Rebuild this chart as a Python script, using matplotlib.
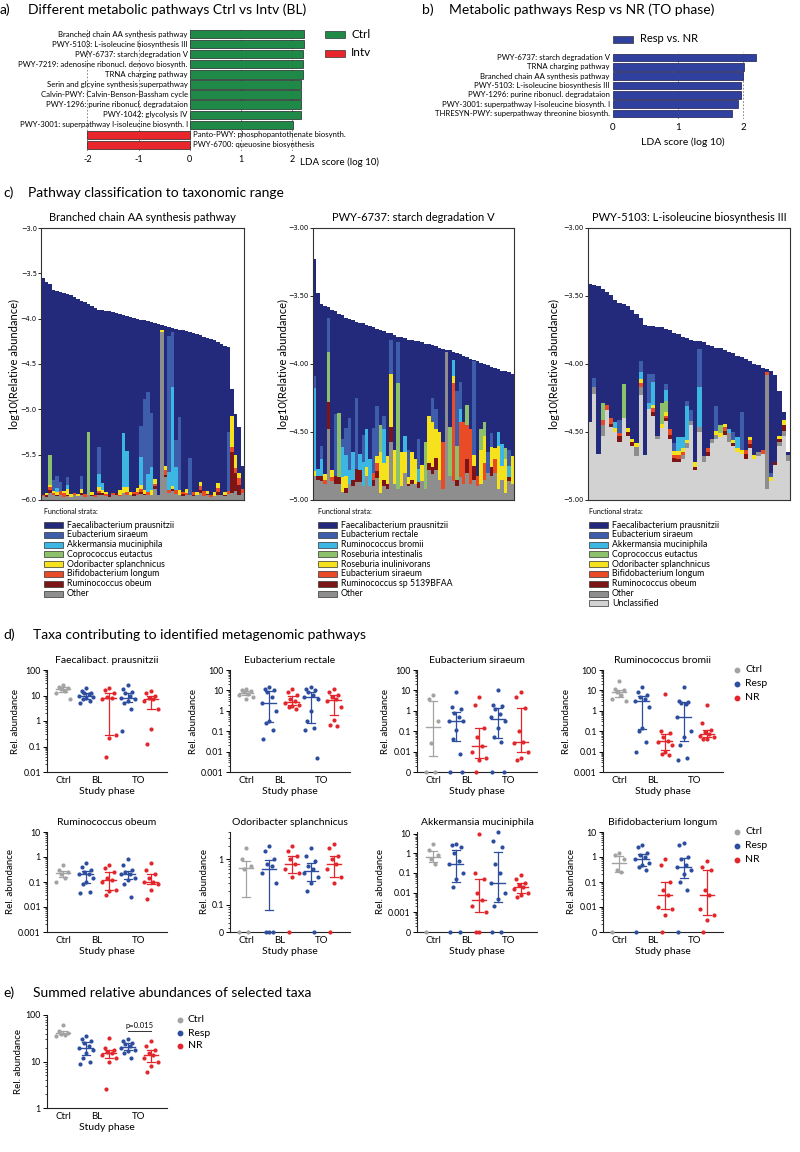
import numpy as np
import matplotlib
matplotlib.use('Agg')
import matplotlib.pyplot as plt
from matplotlib.patches import Rectangle
from matplotlib.lines import Line2D
from matplotlib.ticker import LogLocator, NullFormatter

plt.rcParams['font.family'] = ['Lato', 'DejaVu Sans']
plt.rcParams['axes.unicode_minus'] = False

# ---------------- data: panel a / b (LDA scores) ----------------
a_labels = ["Branched chain AA synthesis pathway",
            "PWY-5103: L-isoleucine biosynthesis III",
            "PWY-6737: starch degradation V",
            "PWY-7219: adenosine ribonucl. denovo biosynth.",
            "TRNA charging pathway",
            "Serin and glcyine synthesis superpathway",
            "Calvin-PWY: Calvin-Benson-Bassham cycle",
            "PWY-1296: purine ribonucl. degradataion",
            "PWY-1042: glycolysis IV",
            "PWY-3001: superpathway l-isoleucine biosynth. I",
            "Panto-PWY: phosphopantothenate biosynth.",
            "PWY-6700: queuosine biosynthesis"]
a_scores = [2.22, 2.22, 2.21, 2.20, 2.20, 2.17, 2.16, 2.16, 2.16, 2.01, -2.01, -2.01]

b_labels = ["PWY-6737: starch degradation V",
            "TRNA charging pathway",
            "Branched chain AA synthesis pathway",
            "PWY-5103: L-isoleucine biosynthesis III",
            "PWY-1296: purine ribonucl. degradataion",
            "PWY-3001: superpathway l-isoleucine biosynth. I",
            "THRESYN-PWY: superpathway threonine biosynth."]
b_scores = [2.19, 2.01, 2.00, 1.96, 1.96, 1.92, 1.83]

# ---------------- data: panel c (stratified abundances) ----------------
# totals are log10(relative abundance); strata are heights in 1/100 log units,
# listed bottom-up; F. prausnitzii fills the rest of each bar
c1_total = [-3.55, -3.60, -3.62, -3.68, -3.70, -3.71, -3.72, -3.73, -3.74, -3.76,
            -3.78, -3.80, -3.82, -3.84, -3.86, -3.88, -3.90, -3.90, -3.91, -3.92,
            -3.93, -3.94, -3.95, -3.96, -3.97, -3.98, -3.99, -4.00, -4.01, -4.02,
            -4.03, -4.04, -4.05, -4.06, -4.07, -4.08, -4.09, -4.10, -4.11, -4.12,
            -4.13, -4.14, -4.15, -4.16, -4.17, -4.18, -4.20, -4.21, -4.22, -4.24,
            -4.26, -4.28, -4.30, -4.31, -4.78, -5.05, -5.20, -5.62]
c1_other = [4, 3, 8, 5, 4, 6, 3, 4, 3, 5, 4, 6, 3, 5, 4, 3, 5, 6, 4, 3,
            5, 6, 4, 8, 6, 5, 4, 6, 7, 5, 6, 6, 12, 6, 185, 25, 8, 10, 7, 6,
            4, 5, 6, 4, 5, 8, 4, 5, 3, 4, 6, 5, 4, 7, 8, 10, 6, 8]
c1_obeum = [0, 2, 3, 0, 2, 0, 0, 2, 0, 0, 0, 2, 0, 0, 2, 0, 3, 2, 0, 2,
            0, 2, 0, 0, 0, 0, 3, 0, 2, 2, 0, 0, 3, 0, 0, 3, 0, 2, 0, 0,
            3, 0, 0, 2, 0, 3, 0, 2, 0, 0, 3, 0, 2, 0, 45, 20, 10, 0]
c1_bifido = [2, 0, 3, 3, 0, 4, 5, 0, 0, 3, 0, 0, 4, 0, 0, 3, 2, 0, 3, 0,
             3, 0, 2, 0, 3, 0, 2, 3, 3, 0, 3, 0, 3, 0, 0, 5, 3, 0, 4, 0,
             2, 3, 0, 3, 0, 4, 6, 0, 3, 0, 4, 0, 0, 3, 5, 5, 8, 4]
c1_odori = [0, 3, 2, 2, 3, 0, 2, 6, 4, 0, 3, 4, 0, 0, 3, 0, 4, 3, 2, 0,
            0, 0, 5, 6, 5, 4, 0, 4, 5, 4, 0, 5, 5, 0, 2, 5, 0, 3, 0, 5,
            0, 4, 0, 0, 4, 5, 0, 3, 0, 5, 6, 0, 3, 0, 35, 15, 6, 0]
c1_copro = [0, 0, 34, 0, 0, 0, 0, 0, 0, 0, 0, 0, 0, 70, 0, 0, 0, 0, 0, 0,
            0, 0, 0, 0, 0, 0, 0, 0, 0, 0, 0, 0, 0, 0, 0, 0, 0, 0, 0, 0,
            0, 0, 0, 0, 0, 0, 0, 0, 0, 0, 0, 0, 0, 0, 0, 0, 0, 0]
c1_akk = [0, 0, 0, 0, 4, 0, 0, 5, 0, 0, 0, 0, 0, 0, 0, 0, 15, 8, 0, 0,
          0, 0, 0, 60, 40, 0, 0, 0, 30, 0, 20, 25, 0, 0, 0, 0, 20, 110, 25, 0,
          0, 0, 0, 0, 0, 0, 0, 0, 0, 0, 0, 0, 0, 0, 0, 0, 0, 0]
c1_sira = [0, 0, 0, 12, 14, 10, 0, 8, 0, 0, 0, 15, 0, 0, 0, 0, 30, 0, 0, 0,
           0, 0, 0, 0, 0, 0, 0, 0, 35, 100, 90, 60, 0, 0, 0, 0, 150, 60, 30, 80,
           0, 0, 40, 0, 0, 0, 0, 0, 0, 0, 0, 0, 0, 65, 0, 0, 0, 0]

c2_total = [-3.23, -3.48, -3.56, -3.57, -3.58, -3.60, -3.61, -3.63, -3.64, -3.66,
            -3.67, -3.68, -3.69, -3.70, -3.70, -3.71, -3.72, -3.73, -3.74, -3.75,
            -3.76, -3.77, -3.77, -3.79, -3.80, -3.80, -3.81, -3.82, -3.82, -3.83,
            -3.83, -3.84, -3.85, -3.85, -3.86, -3.87, -3.88, -3.89, -3.90, -3.90,
            -3.91, -3.92, -3.93, -3.94, -3.95, -3.96, -3.97, -3.98, -3.99, -4.00,
            -4.01, -4.02, -4.03, -4.04, -4.05, -4.05, -4.06, -4.07]
c2_other = [18, 15, 14, 12, 52, 14, 12, 12, 6, 5, 12, 10, 13, 13, 10, 18, 10, 10, 16, 5,
            10, 8, 43, 12, 8, 10, 20, 10, 12, 12, 9, 14, 8, 22, 19, 22, 15, 8, 109, 18,
            14, 10, 17, 12, 20, 12, 15, 10, 12, 15, 20, 18, 20, 8, 15, 5, 14, 12]
c2_rumsp = [0, 3, 4, 0, 20, 0, 6, 5, 0, 4, 0, 5, 10, 9, 0, 0, 0, 5, 5, 0,
            5, 4, 11, 0, 0, 0, 0, 2, 3, 0, 4, 0, 0, 5, 5, 9, 0, 0, 0, 0,
            0, 5, 0, 0, 10, 0, 10, 0, 0, 0, 0, 6, 0, 0, 0, 0, 3, 0]
c2_sira = [0, 0, 0, 3, 0, 3, 0, 0, 0, 0, 0, 0, 0, 0, 0, 0, 0, 5, 6, 0,
           0, 0, 0, 0, 0, 0, 0, 0, 0, 0, 0, 0, 0, 0, 0, 0, 0, 35, 0, 0,
           72, 0, 40, 45, 25, 40, 0, 8, 0, 12, 0, 0, 10, 0, 0, 0, 0, 0]
c2_inul = [3, 0, 0, 4, 0, 5, 0, 0, 11, 9, 0, 0, 0, 0, 0, 6, 0, 0, 5, 30,
           12, 20, 39, 25, 0, 25, 15, 5, 20, 18, 0, 12, 0, 35, 33, 21, 35, 0, 0, 0,
           5, 0, 0, 0, 0, 0, 8, 0, 25, 20, 0, 15, 8, 32, 10, 25, 0, 20]
c2_intest = [0, 0, 0, 0, 37, 0, 0, 47, 0, 0, 0, 0, 0, 0, 0, 0, 0, 0, 0, 20,
             0, 0, 0, 0, 78, 0, 0, 0, 0, 0, 0, 0, 35, 0, 0, 0, 0, 0, 0, 36,
             0, 25, 0, 0, 15, 0, 0, 0, 15, 10, 0, 0, 0, 0, 0, 8, 0, 0]
c2_bromii = [61, 5, 12, 0, 0, 0, 0, 0, 22, 15, 10, 20, 0, 12, 18, 28, 20, 0, 0, 0,
             25, 0, 0, 0, 0, 0, 12, 0, 0, 0, 10, 0, 0, 0, 0, 0, 0, 0, 0, 0,
             12, 0, 10, 0, 0, 0, 0, 0, 0, 0, 0, 0, 0, 10, 16, 0, 8, 0]
c2_rectale = [9, 0, 10, 0, 25, 0, 45, 0, 6, 20, 38, 0, 52, 0, 20, 0, 0, 33, 37, 0,
              10, 0, 25, 0, 30, 0, 0, 20, 0, 0, 22, 0, 0, 0, 18, 15, 0, 0, 0, 0,
              0, 40, 20, 0, 0, 0, 69, 0, 0, 0, 15, 10, 0, 0, 0, 0, 12, 0]

c3_total = [-3.41, -3.42, -3.43, -3.45, -3.47, -3.49, -3.53, -3.55, -3.56, -3.57,
            -3.60, -3.63, -3.66, -3.71, -3.72, -3.72, -3.73, -3.73, -3.74, -3.75,
            -3.77, -3.78, -3.80, -3.81, -3.82, -3.83, -3.83, -3.84, -3.86, -3.87,
            -3.88, -3.88, -3.90, -3.91, -3.92, -3.94, -3.95, -3.96, -3.98, -4.00,
            -4.01, -4.03, -4.04, -4.05, -4.08, -4.20, -4.35, -4.65]
c3_uncl = [57, 78, 34, 47, 66, 54, 50, 43, 60, 47, 40, 32, 77, 33, 67, 62, 45, 53, 58, 45,
           28, 28, 30, 38, 55, 22, 50, 28, 32, 42, 45, 46, 48, 43, 40, 35, 34, 30, 38, 30,
           32, 34, 8, 14, 26, 40, 47, 29]
c3_other = [0, 5, 0, 8, 0, 0, 0, 0, 0, 0, 0, 7, 6, 0, 0, 0, 2, 0, 0, 0,
            0, 0, 3, 4, 3, 0, 4, 4, 0, 3, 3, 0, 0, 6, 0, 0, 0, 0, 0, 0,
            3, 0, 84, 0, 0, 3, 4, 4]
c3_obeum = [0, 0, 0, 0, 0, 2, 0, 4, 0, 3, 3, 0, 0, 0, 0, 3, 0, 0, 2, 3,
            3, 2, 0, 0, 0, 2, 0, 0, 3, 0, 0, 0, 3, 0, 2, 0, 0, 4, 3, 0,
            0, 0, 0, 0, 2, 2, 4, 0]
c3_bifido = [0, 0, 0, 4, 4, 4, 0, 2, 0, 0, 0, 0, 3, 0, 0, 3, 0, 0, 2, 4,
             2, 3, 2, 0, 0, 0, 0, 0, 3, 0, 0, 0, 3, 0, 0, 0, 0, 3, 3, 0,
             0, 3, 2, 0, 0, 0, 0, 0]
c3_odori = [0, 0, 0, 0, 0, 0, 3, 0, 0, 3, 2, 3, 3, 0, 0, 2, 0, 3, 3, 0,
            3, 3, 3, 2, 0, 4, 0, 0, 0, 0, 3, 3, 2, 0, 2, 3, 3, 0, 2, 3,
            0, 0, 0, 3, 0, 2, 4, 0]
c3_copro = [0, 0, 0, 12, 0, 0, 0, 0, 25, 0, 0, 0, 0, 0, 0, 0, 0, 15, 8, 0,
            0, 0, 0, 0, 0, 0, 0, 0, 0, 0, 0, 6, 0, 0, 0, 0, 0, 0, 0, 0,
            0, 0, 0, 0, 0, 0, 0, 0]
c3_akk = [0, 0, 0, 0, 0, 0, 4, 0, 0, 0, 0, 0, 5, 0, 4, 17, 0, 0, 8, 0,
          0, 10, 8, 25, 0, 0, 29, 0, 0, 0, 0, 0, 0, 3, 0, 8, 0, 0, 0, 0,
          0, 0, 0, 0, 0, 0, 0, 0]
c3_sira = [0, 7, 0, 0, 0, 0, 0, 10, 0, 0, 0, 0, 8, 0, 22, 6, 0, 0, 4, 0,
           6, 0, 0, 4, 8, 0, 28, 0, 0, 0, 18, 0, 0, 0, 6, 0, 28, 0, 0, 0,
           0, 0, 0, 3, 0, 0, 0, 0]

legend1 = ["Faecalibacterium prausnitzii", "Eubacterium siraeum", "Akkermansia muciniphila",
           "Coprococcus eutactus", "Odoribacter splanchnicus", "Bifidobacterium longum",
           "Ruminococcus obeum", "Other"]
legend2 = ["Faecalibacterium prausnitzii", "Eubacterium rectale", "Ruminococcus bromii",
           "Roseburia intestinalis", "Roseburia inulinivorans", "Eubacterium siraeum",
           "Ruminococcus sp 5139BFAA", "Other"]
legend3 = legend1 + ["Unclassified"]

# ---------------- data: panel d / e (relative abundance, %) ----------------
# groups: Ctrl, BL Resp, BL NR, TO Resp, TO NR ; 0 = not detected
faecali = [[25, 22, 20, 18, 15, 13, 7],
           [20, 15, 13, 12, 11, 10, 9, 8, 7, 6, 5],
           [20, 17, 12, 9, 8, 7, 0.28, 0.22, 0.04],
           [25, 18, 14, 12, 10, 8, 7, 6, 5, 3, 0.4],
           [15, 12, 10, 8, 7, 6, 3, 0.5, 0.12]]
rectale = [[12, 10, 9, 8, 7, 6, 5, 4],
           [15, 12, 10, 8, 5, 2.3, 1.0, 0.3, 0.25, 0.12, 0.04],
           [12, 8, 6, 4, 3, 2.5, 2, 1.8, 1.5, 1.2],
           [15, 12, 10, 8, 6, 5, 4, 1, 0.3, 0.15, 0.12, 0.005],
           [12, 8, 6, 5, 4, 3, 1.5, 0.35, 0.2, 0.18]]
siraeum = [[6, 4, 0.3, 0.025, 0, 0],
           [8, 1.5, 1.2, 0.8, 0.5, 0.3, 0.3, 0.12, 0.04, 0.008, 0, 0],
           [5, 2, 0.15, 0.05, 0.018, 0.01, 0.005, 0.004, 0],
           [10, 2, 1.8, 1.2, 0.7, 0.5, 0.3, 0.15, 0.05, 0.03, 0, 0],
           [8, 5, 1.3, 0.1, 0.03, 0.025, 0.01, 0.005, 0.004]]
bromii = [[30, 12, 10, 8, 6, 4, 3],
          [15, 8, 6, 5, 4, 3, 1.5, 0.15, 0.1, 0.03, 0.01],
          [7, 0.1, 0.08, 0.05, 0.035, 0.03, 0.02, 0.01, 0.008, 0.007],
          [15, 3, 2.8, 2.5, 2.2, 0.5, 0.1, 0.05, 0.02, 0.005, 0.004],
          [2, 0.25, 0.12, 0.09, 0.07, 0.06, 0.05, 0.04, 0.04]]
obeum = [[0.5, 0.3, 0.25, 0.2, 0.15, 0.1],
         [0.6, 0.4, 0.3, 0.25, 0.2, 0.2, 0.15, 0.1, 0.08, 0.04, 0.035],
         [0.5, 0.35, 0.25, 0.15, 0.12, 0.1, 0.05, 0.045, 0.03],
         [0.8, 0.5, 0.3, 0.25, 0.2, 0.2, 0.15, 0.12, 0.08, 0.025],
         [0.6, 0.3, 0.2, 0.15, 0.1, 0.1, 0.08, 0.05, 0.02]]
odori = [[1.8, 1.0, 0.7, 0.6, 0, 0],
         [2, 1.5, 1.0, 0.8, 0.7, 0.5, 0.3, 0, 0, 0],
         [2, 1.5, 1.2, 1.0, 0.8, 0.6, 0.5, 0.4, 0],
         [1.8, 1.2, 0.9, 0.7, 0.6, 0.5, 0.4, 0.3, 0.2, 0],
         [2.2, 1.8, 1.2, 1.0, 0.8, 0.6, 0.4, 0.3, 0]]
akk = [[3, 1.5, 0.8, 0.5, 0.3, 0],
       [3, 2.5, 2, 1, 0.4, 0.3, 0.1, 0.05, 0.02, 0, 0],
       [10, 0.1, 0.05, 0.01, 0.004, 0.002, 0.001, 0, 0],
       [12, 4, 2, 0.3, 0.1, 0.03, 0.01, 0.005, 0.002, 0, 0],
       [0.08, 0.05, 0.03, 0.025, 0.02, 0.015, 0.01, 0.008, 0.006]]
bifido = [[1.5, 1.2, 0.8, 0.3, 0.25, 0],
          [3, 2.5, 1.5, 1.2, 1, 0.8, 0.6, 0.5, 0.4, 0.3, 0],
          [0.8, 0.5, 0.1, 0.05, 0.03, 0.01, 0.008, 0.005, 0],
          [3.5, 3, 1, 0.8, 0.5, 0.4, 0.3, 0.2, 0.1, 0.05, 0],
          [0.7, 0.4, 0.3, 0.05, 0.03, 0.008, 0.005, 0.003, 0]]
summed = [[60, 45, 42, 40, 38, 35],
          [35, 30, 28, 25, 22, 20, 18, 15, 12, 10, 9],
          [32, 20, 18, 16, 15, 14, 12, 10, 2.5],
          [30, 28, 25, 24, 22, 20, 18, 17, 15, 12],
          [28, 22, 18, 15, 14, 12, 10, 8, 6]]

d_titles = ["Faecalibact. prausnitzii", "Eubacterium rectale", "Eubacterium siraeum",
            "Ruminococcus bromii", "Ruminococcus obeum", "Odoribacter splanchnicus",
            "Akkermansia muciniphila", "Bifidobacterium longum"]

# ---------------- style ----------------
GREEN, RED_A, BLUE_B = '#1f8a48', '#e8262b', '#2f409e'
NAVY, MBLUE, LBLUE, LGREEN = '#232a7b', '#3e5dab', '#3cb6e3', '#8cc06b'
YELLOW, ORANGE, DRED, OTHER, UNCL = '#f5e21c', '#ea4b27', '#7d1416', '#8e8e8e', '#d2d2d2'
strata_cols = [NAVY, MBLUE, LBLUE, LGREEN, YELLOW, ORANGE, DRED, OTHER, UNCL]
GRAY, BLUE, RED = '#a3a3a3', '#2d4d9e', '#e3262c'

W, H = 800, 1152
fig = plt.figure(figsize=(W / 100, H / 100), dpi=100)


def px_axes(left, top, width, height):
    return fig.add_axes([left / W, 1 - (top + height) / H, width / W, height / H])


def px_text(x, y, s, **kw):
    kw.setdefault('va', 'center')
    fig.text(x / W, 1 - y / H, s, **kw)


def px_patch(x, y, w, h, color, edge='#333333'):
    fig.add_artist(Rectangle((x / W, 1 - (y + h / 2) / H), w / W, h / H,
                             transform=fig.transFigure, facecolor=color,
                             edgecolor=edge, linewidth=0.5))


def px_dot(x, y, color):
    fig.add_artist(Line2D([x / W], [1 - y / H], marker='o', markersize=3.2,
                          color=color, linestyle='none', transform=fig.transFigure))


def panel_title(x, y, letter, text, gap=26):
    px_text(x, y, letter, fontsize=10)
    px_text(x + gap, y, text, fontsize=10)


# ---------------- panel a ----------------
panel_title(0, 10, 'a)', 'Different metabolic pathways Ctrl vs Intv (BL)', gap=28)
ax = px_axes(77, 28, 236, 123)
a_cols = [GREEN if s > 0 else RED_A for s in a_scores]
for x in [-2, -1, 0, 1, 2]:
    ax.axvline(x, color='#777777', lw=0.6, ls=(0, (2, 2)), zorder=0)
ax.barh(range(len(a_scores)), a_scores, height=0.82, color=a_cols,
        edgecolor='#222222', linewidth=0.5, zorder=2)
for i, (lab, s) in enumerate(zip(a_labels, a_scores)):
    if s > 0:
        ax.text(-0.04, i, lab, ha='right', va='center', fontsize=5.6)
    else:
        ax.text(0.06, i, lab, ha='left', va='center', fontsize=5.6)
ax.set_xlim(-2.2, 2.4)
ax.set_ylim(len(a_scores) - 0.4, -0.6)
ax.set_xticks([-2, -1, 0, 1, 2])
ax.set_xticklabels(['-2', '-1', '0', '1', '2'])
ax.set_yticks([])
ax.tick_params(axis='x', length=0, labelsize=6.5, pad=3)
for sp in ax.spines.values():
    sp.set_visible(False)
px_text(300, 162, 'LDA score (log 10)', fontsize=7)
px_patch(325, 34, 20, 7, GREEN)
px_text(351, 34, 'Ctrl', fontsize=8.5)
px_patch(325, 53, 20, 7, RED_A)
px_text(351, 53, 'Intv', fontsize=8.5)

# ---------------- panel b ----------------
panel_title(422, 10, 'b)', 'Metabolic pathways Resp vs NR (TO phase)', gap=27)
ax = px_axes(613, 52, 150, 67)
for x in [1, 2]:
    ax.axvline(x, color='#777777', lw=0.6, ls=(0, (2, 2)), zorder=0)
ax.barh(range(len(b_scores)), b_scores, height=0.82, color=BLUE_B,
        edgecolor='#1a1a4a', linewidth=0.5, zorder=2)
for i, lab in enumerate(b_labels):
    ax.text(-0.05, i, lab, ha='right', va='center', fontsize=5.6)
ax.set_xlim(0, 2.3)
ax.set_ylim(len(b_scores) - 0.4, -0.6)
ax.set_xticks([0, 1, 2])
ax.set_yticks([])
ax.tick_params(axis='x', length=0, labelsize=7, pad=3)
for sp in ax.spines.values():
    sp.set_visible(False)
px_text(683, 142, 'LDA score (log 10)', fontsize=7.5, ha='center')
px_patch(613, 39, 20, 7, BLUE_B)
px_text(640, 39, 'Resp vs. NR', fontsize=8)

# ---------------- panel c ----------------
panel_title(3, 193, 'c)', 'Pathway classification to taxonomic range', gap=25)


def strata_panel(left, width, title, totals, strata, base, fmt, ylab_x, legend, leg_x):
    ax = px_axes(left, 228, width, 272)
    n = len(totals)
    x = np.arange(n)
    bottom = np.full(n, float(base))
    # strata given bottom-up; colours are legend order reversed
    cols = strata_cols[1:len(strata) + 1][::-1]
    for seg, col in zip(strata, cols):
        h = np.array(seg) / 100.0
        ax.bar(x, h, bottom=bottom, width=1.0, color=col, linewidth=0)
        bottom = bottom + h
    ax.bar(x, np.clip(np.array(totals) - bottom, 0, None), bottom=bottom,
           width=1.0, color=NAVY, linewidth=0)
    ax.set_xlim(-0.5, n - 0.5)
    ax.set_ylim(base, -3.0)
    ticks = np.arange(-3.0, base - 0.01, -0.5)
    ax.set_yticks(ticks)
    ax.set_yticklabels([('\u2212' + fmt % abs(t)) for t in ticks],
                       fontfamily='DejaVu Sans')
    ax.set_xticks([])
    ax.tick_params(axis='y', labelsize=4.8, length=2, width=0.6, pad=1)
    for sp in ax.spines.values():
        sp.set_color('#333333')
        sp.set_linewidth(0.8)
    ax.set_title(title, fontsize=8, pad=5)
    px_text(ylab_x, 364, 'log10(Relative abundance)', fontsize=8, rotation=90, ha='center')
    px_text(leg_x, 512, 'Functional strata:', fontsize=5)
    for k, lab in enumerate(legend):
        y = 525 + 9.8 * k
        px_patch(leg_x, y, 19, 6, strata_cols[k])
        px_text(leg_x + 23, y, lab, fontsize=6.3)


strata_panel(41, 203, 'Branched chain AA synthesis pathway', c1_total,
             [c1_other, c1_obeum, c1_bifido, c1_odori, c1_copro, c1_akk, c1_sira],
             -6.0, '%.1f', 14, legend1, 44)
strata_panel(313, 201, 'PWY-6737: starch degradation V', c2_total,
             [c2_other, c2_rumsp, c2_sira, c2_inul, c2_intest, c2_bromii, c2_rectale],
             -5.0, '%.2f', 283, legend2, 318)
strata_panel(588, 202, 'PWY-5103: L-isoleucine biosynthesis III', c3_total,
             [c3_uncl, c3_other, c3_obeum, c3_bifido, c3_odori, c3_copro, c3_akk, c3_sira],
             -5.0, '%.2f', 554, legend3, 589)

# ---------------- panel d / e ----------------
group_x = [1, 2, 3, 3.8, 4.8]
group_c = [GRAY, BLUE, RED, BLUE, RED]
spread = [0, -0.2, 0.2, -0.1, 0.1, -0.3, 0.3, 0.0, -0.15, 0.15, -0.25, 0.25]


def dot_panel(ax, groups, ylim, ticks, ticklabels, zero_at, title=None):
    for xc, vals, col in zip(group_x, groups, group_c):
        v = np.array(vals, dtype=float)
        vp = np.where(v <= 0, zero_at, v)
        rank = np.argsort(np.argsort(-vp))
        offs = np.array([spread[r % len(spread)] for r in rank])
        ax.scatter(xc + offs, vp, s=9, color=col, linewidths=0, zorder=3, clip_on=False)
        med = max(np.median(v), zero_at)
        q1, q3 = np.percentile(v, [25, 75])
        q1, q3 = max(q1, zero_at), max(q3, zero_at)
        ax.plot([xc, xc], [q1, q3], color=col, lw=0.9, zorder=2, clip_on=False)
        ax.plot([xc - 0.3, xc + 0.3], [med, med], color=col, lw=1.0, zorder=2, clip_on=False)
        for q in (q1, q3):
            ax.plot([xc - 0.17, xc + 0.17], [q, q], color=col, lw=0.9, zorder=2, clip_on=False)
    ax.set_yscale('log')
    ax.set_ylim(*ylim)
    ax.set_xlim(0.3, 5.5)
    ax.yaxis.set_minor_locator(LogLocator(base=10, subs=np.arange(2, 10)))
    ax.yaxis.set_minor_formatter(NullFormatter())
    ax.set_yticks(ticks)
    ax.set_yticklabels(ticklabels)
    ax.set_xticks([1, 2.45, 4.25])
    ax.set_xticklabels(['Ctrl', 'BL', 'TO'])
    ax.tick_params(axis='x', length=0, labelsize=7, pad=3)
    ax.tick_params(axis='y', which='major', length=3, width=0.7, labelsize=6.3, pad=1.5)
    ax.tick_params(axis='y', which='minor', length=1.5, width=0.5)
    for s in ('top', 'right'):
        ax.spines[s].set_visible(False)
    for s in ('left', 'bottom'):
        ax.spines[s].set_linewidth(0.8)
        ax.spines[s].set_color('#222222')
    ax.set_xlabel('Study phase', fontsize=7.5, labelpad=1)
    ax.set_ylabel('Rel. abundance', fontsize=7, labelpad=2)
    if title:
        ax.set_title(title, fontsize=7.5, pad=5)


panel_title(3, 635, 'd)', 'Taxa contributing to identified metagenomic pathways', gap=30)
lefts = [47, 230, 417, 603]
t4 = [100, 10, 1, 0.1, 0.01]
l4 = ['100', '10', '1', '0.1', '0.01']
specs = [
    (faecali, (0.01, 100), t4, l4, 0.01),
    (rectale, (0.001, 100), t4 + [0.001], l4 + ['0.001'], 0.001),
    (siraeum, (0.001, 100), t4 + [0.001], l4 + ['0'], 0.001),
    (bromii, (0.001, 100), t4 + [0.001], l4 + ['0.001'], 0.001),
    (obeum, (0.001, 10), [10, 1, 0.1, 0.01, 0.001], ['10', '1', '0.1', '0.01', '0.001'], 0.001),
    (odori, (0.025, 4), [1, 0.1, 0.025], ['1', '0.1', '0'], 0.025),
    (akk, (0.0001, 12), [10, 1, 0.1, 0.01, 0.001, 0.0001], ['10', '1', '0.1', '0.01', '0.001', '0'], 0.0001),
    (bifido, (0.001, 10), [10, 1, 0.1, 0.01, 0.001], ['10', '1', '0.1', '0.01', '0'], 0.001),
]
for k, (data, ylim, ticks, labels, z) in enumerate(specs):
    row, col = divmod(k, 4)
    top = 670 if row == 0 else 832
    ax = px_axes(lefts[col], top, 120, 102 if row == 0 else 100)
    dot_panel(ax, data, ylim, ticks, labels, z, d_titles[k])

for y0 in (670, 832):
    for j, (lab, c) in enumerate(zip(['Ctrl', 'Resp', 'NR'], [GRAY, BLUE, RED])):
        px_dot(737, y0 + 14 * j, c)
        px_text(745, y0 + 14 * j, lab, fontsize=7.5)

panel_title(3, 993, 'e)', 'Summed relative abundances of selected taxa', gap=30)
ax = px_axes(47, 1015, 120, 93)
dot_panel(ax, summed, (1, 100), [100, 10, 1], ['100', '10', '1'], 1)
ax.plot([3.8, 4.8], [45, 45], color='#333333', lw=0.7)
ax.text(4.3, 50, 'p=0.015', ha='center', va='bottom', fontsize=5.5)
for j, (lab, c) in enumerate(zip(['Ctrl', 'Resp', 'NR'], [GRAY, BLUE, RED])):
    px_dot(180, 1020 + 13 * j, c)
    px_text(188, 1020 + 13 * j, lab, fontsize=7.5)

fig.savefig('out.png', dpi=100)
